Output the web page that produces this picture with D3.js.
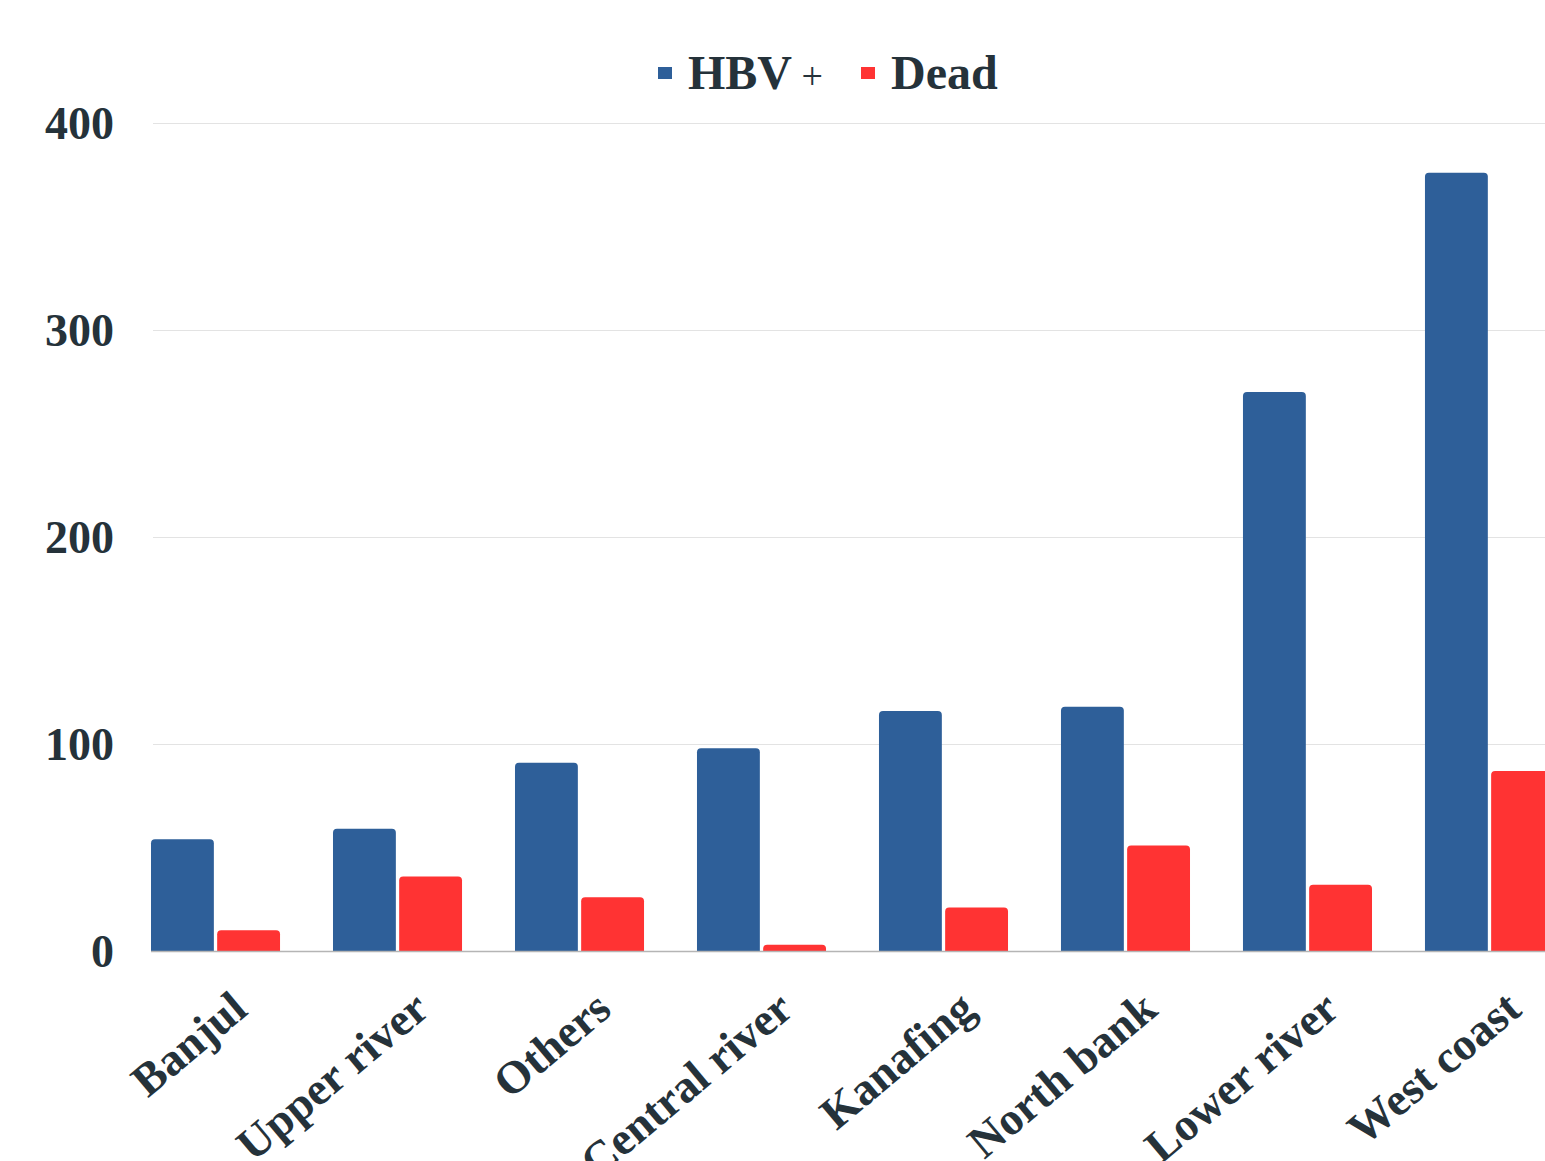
<!DOCTYPE html>
<html>
<head>
<meta charset="utf-8">
<script src="https://cdn.jsdelivr.net/npm/d3@7"></script>
<style>
  html, body { margin: 0; padding: 0; background: #ffffff; overflow: hidden; }
  svg { display: block; }
  text { font-family: "Liberation Serif", "DejaVu Serif", serif; fill: #25323a; }
</style>
</head>
<body>
<svg id="chart" width="1545" height="1161"></svg>
<script>
// Regions, ordered by number of HBV-positive cases
const regions = ["Banjul", "Upper river", "Others", "Central river", "Kanafing", "North bank", "Lower river", "West coast"];
const hbvPositive = [54, 59, 91, 98, 116, 118, 270, 376];
const dead = [10, 36, 26, 3, 21, 51, 32, 87];
const seriesNames = ["HBV +", "Dead"];
const seriesColors = ["#2e5f99", "#ff3333"];
const yTicks = [0, 100, 200, 300, 400];

const svg = d3.select("#chart");
const W = 1545, H = 1161;

const plot = { left: 151, top: 123, bottom: 951, right: 1554 };

const x = d3.scaleBand()
  .domain(regions)
  .range([plot.left, plot.right])
  .paddingInner(0.291)
  .paddingOuter(0);

const xSeries = d3.scaleBand()
  .domain(seriesNames)
  .range([0, x.bandwidth()])
  .paddingInner(0.05);

const y = d3.scaleLinear()
  .domain([0, 400])
  .range([plot.bottom, plot.top]);

// Horizontal grid lines
svg.append("g")
  .selectAll("line")
  .data(yTicks.filter(d => d > 0))
  .join("line")
  .attr("x1", 153)
  .attr("x2", W)
  .attr("y1", d => y(d) + 0.5)
  .attr("y2", d => y(d) + 0.5)
  .attr("stroke", "#e3e3e3")
  .attr("stroke-width", 1);

// Y axis labels
svg.append("g")
  .selectAll("text")
  .data(yTicks)
  .join("text")
  .attr("x", 114)
  .attr("y", d => y(d) + 16)
  .attr("text-anchor", "end")
  .attr("font-size", 46)
  .attr("font-weight", "bold")
  .text(d => d);

// Bar path with rounded top corners
function topRounded(x0, y0, w, h, r) {
  r = Math.min(r, h, w / 2);
  return `M${x0},${y0 + h}` +
    `V${y0 + r}` +
    `Q${x0},${y0} ${x0 + r},${y0}` +
    `H${x0 + w - r}` +
    `Q${x0 + w},${y0} ${x0 + w},${y0 + r}` +
    `V${y0 + h}Z`;
}

const seriesData = [hbvPositive, dead];
const barRows = [];
regions.forEach((r, i) => {
  seriesNames.forEach((s, j) => {
    barRows.push({ region: r, series: s, value: seriesData[j][i], color: seriesColors[j] });
  });
});

svg.append("g")
  .selectAll("path")
  .data(barRows)
  .join("path")
  .attr("d", d => {
    const bx = x(d.region) + xSeries(d.series);
    const by = y(d.value);
    return topRounded(bx, by, xSeries.bandwidth(), y(0) - by, 4);
  })
  .attr("fill", d => d.color);

// Baseline
svg.append("line")
  .attr("x1", plot.left)
  .attr("x2", W)
  .attr("y1", y(0) + 0.5)
  .attr("y2", y(0) + 0.5)
  .attr("stroke", "#b5b5b5")
  .attr("stroke-width", 1.5);

// Rotated category labels
svg.append("g")
  .selectAll("text")
  .data(regions)
  .join("text")
  .attr("transform", d => `translate(${x(d) + x.bandwidth() / 2 + 34},${plot.bottom + 62}) rotate(-40)`)
  .attr("text-anchor", "end")
  .attr("font-size", 46)
  .attr("font-weight", "bold")
  .text(d => d);

// Legend
const legend = svg.append("g");
const legendItems = [
  { name: "HBV", suffix: " +", color: seriesColors[0], sx: 658, tx: 688 },
  { name: "Dead", suffix: "", color: seriesColors[1], sx: 861, tx: 891 }
];
legendItems.forEach(it => {
  legend.append("rect")
    .attr("x", it.sx).attr("y", 67)
    .attr("width", 14).attr("height", 12)
    .attr("fill", it.color);
  const t = legend.append("text")
    .attr("x", it.tx).attr("y", 89)
    .attr("font-size", 48);
  t.append("tspan").attr("font-weight", "bold").text(it.name);
  if (it.suffix) t.append("tspan").attr("font-weight", "normal").attr("font-size", 38).text(it.suffix);
});
</script>
</body>
</html>
